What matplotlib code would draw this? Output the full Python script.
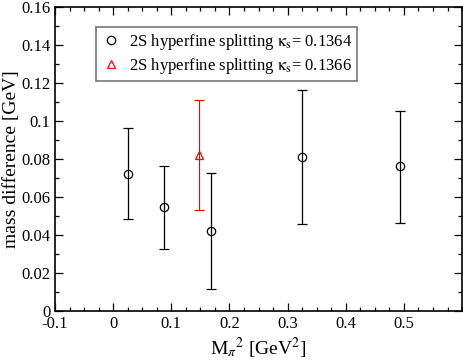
import matplotlib
matplotlib.use("Agg")
import matplotlib.pyplot as plt
from matplotlib.ticker import MultipleLocator

plt.rcParams['font.family'] = ['Liberation Serif', 'DejaVu Serif']
plt.rcParams['mathtext.fontset'] = 'stix'

# kappa_s = 0.1364
mpi2_a = [0.025, 0.087, 0.168, 0.325, 0.4925]
dm_a = [0.0721, 0.0546, 0.0420, 0.0809, 0.0763]
err_lo_a = [0.0238, 0.0220, 0.0303, 0.0353, 0.0298]
err_hi_a = [0.0242, 0.0217, 0.0305, 0.0353, 0.0290]

# kappa_s = 0.1366
mpi2_b = [0.147]
dm_b = [0.0820]
err_lo_b = [0.0290]
err_hi_b = [0.0290]

labels = [r'2S hyperfine splitting $\mathrm{\kappa_s}$= 0.1364',
          r'2S hyperfine splitting $\mathrm{\kappa_s}$= 0.1366']

fig = plt.figure(figsize=(4.63, 3.62), dpi=100)
ax = fig.add_axes([0.1188, 0.1409, 0.8792, 0.8398])

eb_a = ax.errorbar(mpi2_a, dm_a, yerr=[err_lo_a, err_hi_a], fmt='o', mfc='none',
                   mec='black', color='black', ms=6, mew=0.9, elinewidth=0.9,
                   capsize=3.3, capthick=0.9)
eb_b = ax.errorbar(mpi2_b, dm_b, yerr=[err_lo_b, err_hi_b], fmt='^', mfc='none',
                   mec='red', color='red', ms=6, mew=0.9, elinewidth=0.9,
                   capsize=3.3, capthick=0.9)

ax.set_xlim(-0.1, 0.6)
ax.set_ylim(0, 0.16)
ax.set_xticks([-0.1, 0, 0.1, 0.2, 0.3, 0.4, 0.5])
ax.set_xticklabels(['-0.1', '0', '0.1', '0.2', '0.3', '0.4', '0.5'])
ax.set_yticks([0, 0.02, 0.04, 0.06, 0.08, 0.1, 0.12, 0.14, 0.16])
ax.set_yticklabels(['0', '0.02', '0.04', '0.06', '0.08', '0.1', '0.12', '0.14', '0.16'])
ax.xaxis.set_minor_locator(MultipleLocator(0.025))
ax.yaxis.set_minor_locator(MultipleLocator(0.01))
ax.tick_params(which='both', direction='in', top=True, right=True, labelsize=12)
ax.tick_params(which='major', length=6, width=0.9)
ax.tick_params(which='minor', length=3, width=0.9)
for s in ax.spines.values():
    s.set_linewidth(1.2)

ax.set_xlabel(r'M$_\pi$$^2$ [GeV$^2$]', fontsize=14, labelpad=3)
ax.set_ylabel('mass difference [GeV]', fontsize=14, labelpad=1)

# legend shows markers only, no error bars
leg = ax.legend([eb_a[0], eb_b[0]], labels, loc='upper left',
                bbox_to_anchor=(0.1, 0.934), borderaxespad=0, fontsize=12,
                frameon=True, fancybox=False, handletextpad=0.5,
                borderpad=0.3, labelspacing=0.25, handlelength=1.2)
leg.get_frame().set_edgecolor('#555555')
leg.get_frame().set_linewidth(1.2)

fig.savefig('out.png', dpi=100)
